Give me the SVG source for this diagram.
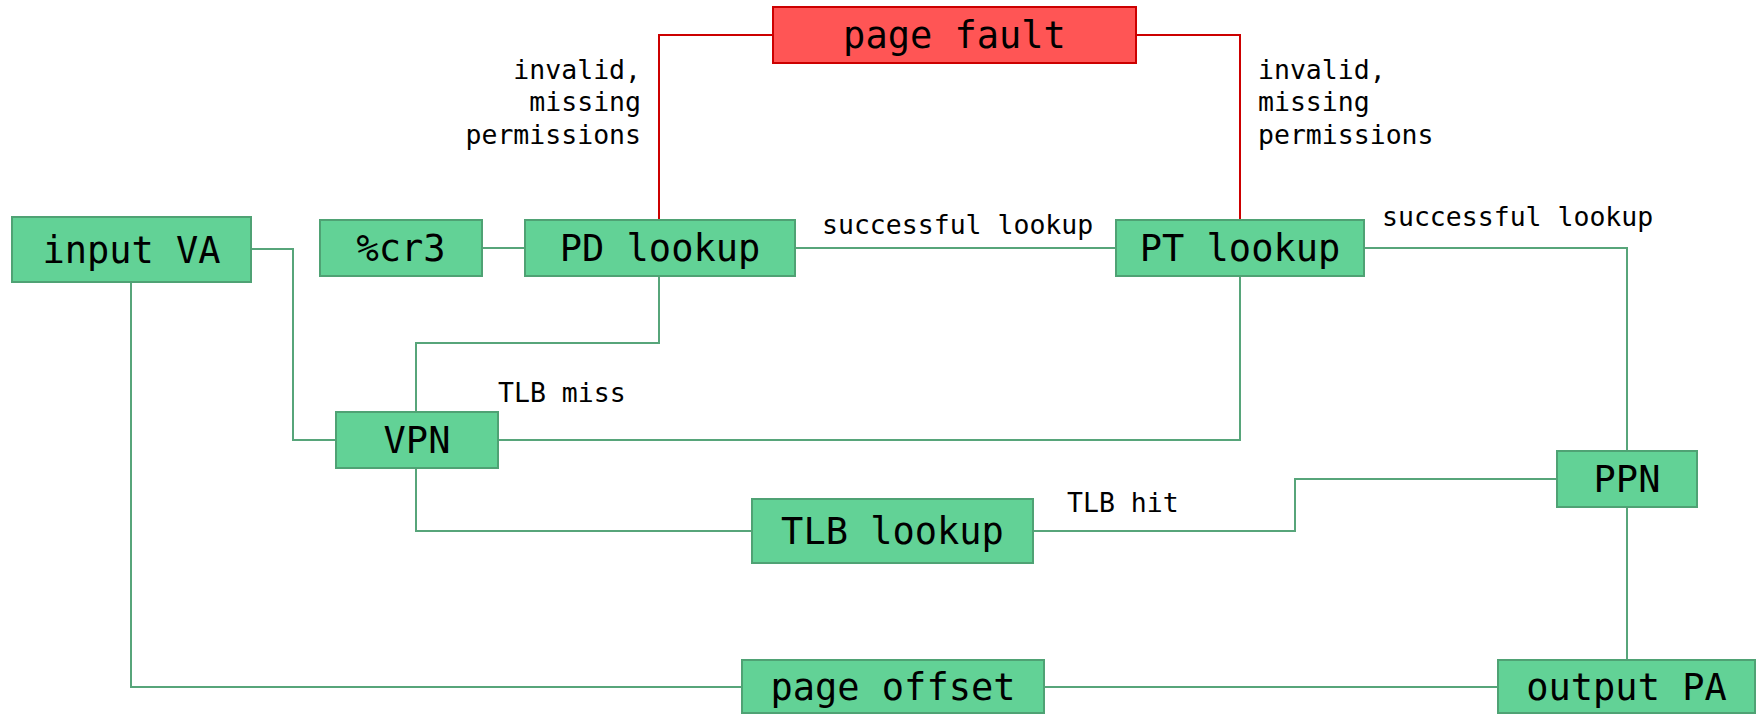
<svg xmlns="http://www.w3.org/2000/svg" width="1760" height="715" viewBox="0 0 1760 715">
<style>
.node rect{fill:#62d296;stroke:#4fa274;stroke-width:2}
.fault rect{fill:#ff5555;stroke:#cc0000;stroke-width:2}
.nt{font-family:"DejaVu Sans Mono","Liberation Mono",monospace;font-size:37px;fill:#000;text-anchor:middle}
.lbl{font-family:"DejaVu Sans Mono","Liberation Mono",monospace;font-size:26.5px;fill:#000}
.c{fill:none;stroke:#57a57a;stroke-width:2}
.r{fill:none;stroke:#cc0000;stroke-width:2}
</style>
<rect width="1760" height="715" fill="#fff"/>
<g id="connectors">
<path class="r" d="M773,35 H659 V220"/>
<path class="r" d="M1136,35 H1240 V220"/>
<path class="c" d="M251,249 H293 V440 H336"/>
<path class="c" d="M482,248 H525"/>
<path class="c" d="M795,248 H1116"/>
<path class="c" d="M659,276 V343 H416 V412"/>
<path class="c" d="M1240,276 V440 H498"/>
<path class="c" d="M1364,248 H1627 V451"/>
<path class="c" d="M416,468 V531 H752"/>
<path class="c" d="M1033,531 H1295 V479 H1557"/>
<path class="c" d="M1627,507 V660"/>
<path class="c" d="M131,282 V687 H742"/>
<path class="c" d="M1044,687 H1498"/>
</g>
<g id="labels">
<text class="lbl" text-anchor="end" x="641" y="79">invalid,</text>
<text class="lbl" text-anchor="end" x="641" y="111">missing</text>
<text class="lbl" text-anchor="end" x="641" y="144">permissions</text>
<text class="lbl" x="1258" y="79">invalid,</text>
<text class="lbl" x="1258" y="111">missing</text>
<text class="lbl" x="1258" y="144">permissions</text>
<text class="lbl" x="822" y="234">successful lookup</text>
<text class="lbl" x="1382" y="226">successful lookup</text>
<text class="lbl" x="498" y="402">TLB miss</text>
<text class="lbl" x="1067" y="512">TLB hit</text>
</g>
<g id="page-fault" class="fault"><rect x="773" y="7" width="363" height="56"/><text class="nt" x="954.5" y="48">page fault</text></g>
<g id="input-va" class="node"><rect x="12" y="217" width="239" height="65"/><text class="nt" x="131.5" y="262.5">input VA</text></g>
<g id="cr3" class="node"><rect x="320" y="220" width="162" height="56"/><text class="nt" x="401" y="261">%cr3</text></g>
<g id="pd-lookup" class="node"><rect x="525" y="220" width="270" height="56"/><text class="nt" x="660" y="261">PD lookup</text></g>
<g id="pt-lookup" class="node"><rect x="1116" y="220" width="248" height="56"/><text class="nt" x="1240" y="261">PT lookup</text></g>
<g id="vpn" class="node"><rect x="336" y="412" width="162" height="56"/><text class="nt" x="417" y="453">VPN</text></g>
<g id="tlb-lookup" class="node"><rect x="752" y="499" width="281" height="64"/><text class="nt" x="892.5" y="544">TLB lookup</text></g>
<g id="ppn" class="node"><rect x="1557" y="451" width="140" height="56"/><text class="nt" x="1627" y="492">PPN</text></g>
<g id="page-offset" class="node"><rect x="742" y="660" width="302" height="53"/><text class="nt" x="893" y="700">page offset</text></g>
<g id="output-pa" class="node"><rect x="1498" y="660" width="257" height="53"/><text class="nt" x="1626.5" y="700">output PA</text></g>
</svg>
